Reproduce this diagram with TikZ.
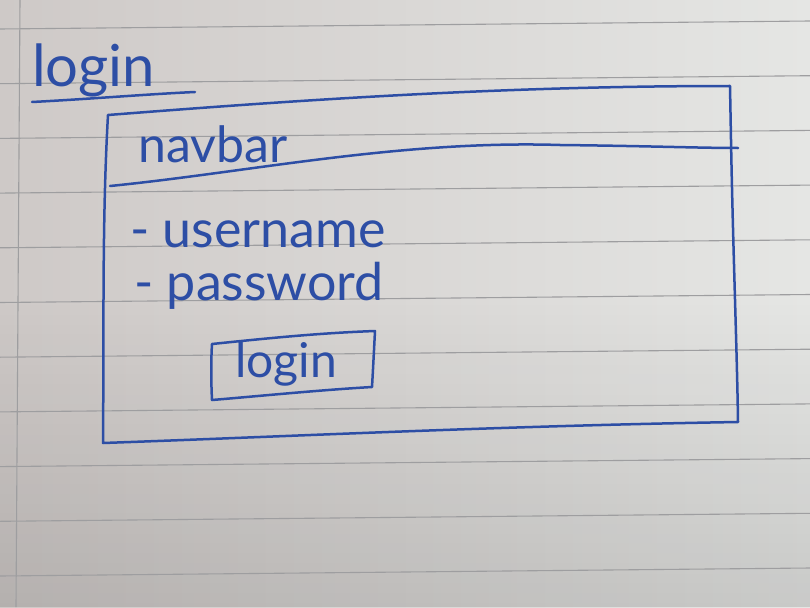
\documentclass[tikz,border=0pt]{standalone}
\usepackage{fontspec}
\setmainfont{Lato}
\usetikzlibrary{fadings}
\tikzfading[name=fadebottom, top color=transparent!100, bottom color=transparent!0]
\definecolor{ink}{RGB}{45,78,165}
\definecolor{paperL}{RGB}{206,201,199}
\definecolor{paperR}{RGB}{229,230,228}
\definecolor{rule}{RGB}{158,158,160}
\tikzset{
  pen/.style={draw=ink, line width=2.5pt, line cap=round, line join=round},
  ruling/.style={draw=rule, line width=1.1pt},
  hand/.style={text=ink, inner sep=0pt, anchor=west, font=\fontsize{52}{52}\selectfont}
}
\begin{document}
\begin{tikzpicture}[x=1pt,y=-1pt]
\useasboundingbox (0,0) rectangle (810,607);
% paper
\shade[left color=paperL, right color=paperR] (0,0) rectangle (810,607);
\fill[black, opacity=0.12, path fading=fadebottom] (0,300) rectangle (810,607);
% margin line
\draw[ruling] (20,0) -- (16,607);
% ruled lines
\foreach \k in {0,...,10} {
  \draw[ruling] (0,{29+54.7*\k}) -- (810,{21+54.7*\k});
}
% title
\node[hand, font=\fontsize{58}{58}\selectfont] (title) at (32,70) {login};
\draw[pen] (32,102) .. controls (90,99) and (150,94) .. (195,92);
% outer frame
\draw[pen] (108,115) .. controls (300,100) and (500,86) .. (730,86)
  -- (731,140) .. controls (733,250) and (737,350) .. (738,422)
  .. controls (500,426) and (300,436) .. (103,443)
  .. controls (104,330) and (102,220) .. (108,115);
% navbar divider
\draw[pen] (110,186) .. controls (250,172) and (400,140) .. (560,145)
  .. controls (650,146) and (700,148) .. (738,148);
\node[hand, font=\fontsize{50}{50}\selectfont] (navbar) at (138,144) {navbar};
% fields
\node[hand] (user) at (130,234) {- username};
\node[hand] (pass) at (134,286) {- password};
% button
\draw[pen] (212,344) .. controls (270,338) and (320,333) .. (375,331)
  .. controls (374,350) and (373,370) .. (372,387)
  .. controls (320,390) and (260,396) .. (212,400)
  .. controls (211,380) and (211,360) .. (212,344);
\node[hand, anchor=center, font=\fontsize{48}{48}\selectfont] (btn) at (286,364) {login};
\end{tikzpicture}
\end{document}
